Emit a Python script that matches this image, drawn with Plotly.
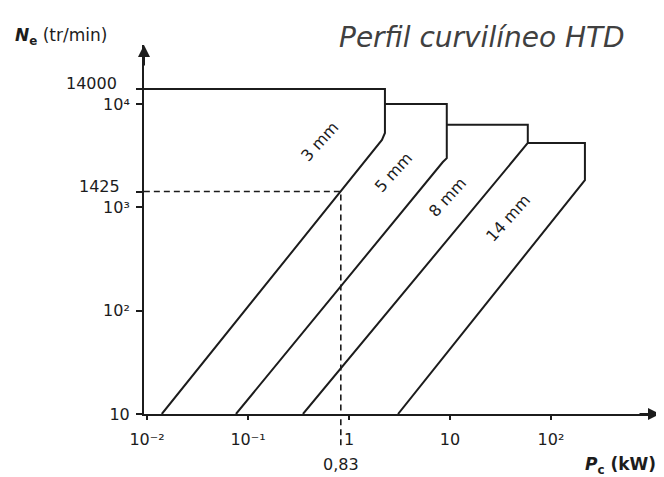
import math
import plotly.graph_objects as go

# ---- data ----
belts = ["3 mm", "5 mm", "8 mm", "14 mm"]

# boundary polylines of each belt-pitch zone: power Pc (kW), speed Ne (tr/min)
p3_kw = [0.0093, 2.27, 2.27, 2.12, 0.014]
n3_rpm = [14000, 14000, 5250, 4500, 10]

p5_kw = [2.27, 9.3, 9.3, 8.5, 0.076]
n5_rpm = [10000, 10000, 3000, 2750, 10]

p8_kw = [9.3, 59, 59, 0.35]
n8_rpm = [6300, 6300, 4200, 10]

p14_kw = [59, 217, 217, 3.06]
n14_rpm = [4200, 4200, 1840, 10]

# example reading (dashed)
ex_kw = [0.0093, 0.83, 0.83]
ex_rpm = [1425, 1425, 10]
ex_label = "0,83"

# tick values / labels
x_tickvals = [0.01, 0.1, 1, 10, 100]
x_ticktext = ["10⁻²", "10⁻¹", "1", "10", "10²"]
y_tickvals = [10, 100, 1000, 1425, 10000, 14000]
y_ticktext = ["10", "10²", "10³", "", "10⁴", ""]
y_special_vals = [14000, 1425]
y_special_text = ["14000", "1425"]

# label anchor points inside each zone (kW, tr/min)
label_kw = [0.516, 2.73, 9.33, 38.4]
label_rpm = [4300, 2200, 1260, 790]

title_text = "Perfil curvilíneo HTD"

# ---- figure ----
INK = "#1c1c1c"
FONT = "DejaVu Sans"
fig = go.Figure()

series = [(p3_kw, n3_rpm), (p5_kw, n5_rpm), (p8_kw, n8_rpm), (p14_kw, n14_rpm)]
for (px, py), name in zip(series, belts):
    fig.add_trace(go.Scatter(x=px, y=py, mode="lines", name=name,
                             line=dict(color=INK, width=2),
                             showlegend=False, hoverinfo="skip"))

fig.add_trace(go.Scatter(x=ex_kw, y=ex_rpm, mode="lines",
                         line=dict(color=INK, width=1.6, dash="6px,4px"),
                         showlegend=False, hoverinfo="skip"))

# dashed extension below the x axis
fig.add_shape(type="line", xref="x", yref="paper",
              x0=ex_kw[-1], x1=ex_kw[-1], y0=-0.085, y1=0,
              line=dict(color=INK, width=1.6, dash="6px,4px"))

annotations = []
for name, kx, ny in zip(belts, label_kw, label_rpm):
    annotations.append(dict(x=math.log10(kx), y=math.log10(ny), xref="x", yref="y",
                            text=name, showarrow=False, textangle=-48,
                            font=dict(family=FONT, size=16, color=INK)))

for val, txt, xs in zip(y_special_vals, y_special_text, [-25, -22]):
    annotations.append(dict(x=0, y=math.log10(val), xref="paper", yref="y",
                            text=txt, showarrow=False, xanchor="right", yanchor="middle",
                            xshift=xs, yshift=5,
                            font=dict(family=FONT, size=16, color=INK)))

annotations.append(dict(x=math.log10(ex_kw[-1]), y=-0.136, xref="x", yref="paper",
                        text=ex_label, showarrow=False, xanchor="center", yanchor="middle",
                        font=dict(family=FONT, size=16, color=INK)))

annotations.append(dict(x=0.655, y=1.02, xref="paper", yref="paper",
                        text="<i>" + title_text + "</i>", showarrow=False,
                        xanchor="center", yanchor="middle",
                        font=dict(family=FONT, size=28, color="#404040")))

annotations.append(dict(x=-0.254, y=1.022, xref="paper", yref="paper",
                        text="<b><i>N</i><sub>e</sub></b> (tr/min)", showarrow=False,
                        xanchor="left", yanchor="middle",
                        font=dict(family=FONT, size=17, color=INK)))

annotations.append(dict(x=0.997, y=-0.14, xref="paper", yref="paper",
                        text="<b><i>P</i><sub>c</sub> (kW)</b>", showarrow=False,
                        xanchor="right", yanchor="middle",
                        font=dict(family=FONT, size=17, color=INK)))

# axis arrows
annotations.append(dict(x=0, y=1.0, xref="paper", yref="paper", ax=0, ay=22,
                        text="", showarrow=True, arrowhead=2, arrowsize=1.2,
                        arrowwidth=2, arrowcolor=INK))
annotations.append(dict(x=1.0, y=0, xref="paper", yref="paper", ax=-22, ay=0,
                        text="", showarrow=True, arrowhead=2, arrowsize=1.2,
                        arrowwidth=2, arrowcolor=INK))

# page body has an 8 px default margin, so the figure is 8 px smaller
fig.update_layout(
    width=656, height=469,
    margin=dict(l=136, r=4, t=37, b=63, pad=0),
    paper_bgcolor="white", plot_bgcolor="white",
    annotations=annotations,
    xaxis=dict(type="log", range=[-2.03, 3.08], tickvals=x_tickvals, ticktext=x_ticktext,
               ticks="outside", ticklen=4, tickwidth=1.5, tickcolor=INK,
               showline=True, linecolor=INK, linewidth=2,
               showgrid=False, zeroline=False, automargin=False,
               ticklabelstandoff=6,
               tickfont=dict(family=FONT, size=16, color=INK)),
    yaxis=dict(type="log", range=[1, 4.572], tickvals=y_tickvals, ticktext=y_ticktext,
               ticks="outside", ticklen=6, tickwidth=1.5, tickcolor=INK,
               showline=True, linecolor=INK, linewidth=2,
               showgrid=False, zeroline=False, automargin=False,
               ticklabelstandoff=3,
               tickfont=dict(family=FONT, size=16, color=INK)),
)

fig.write_html("out.html")
